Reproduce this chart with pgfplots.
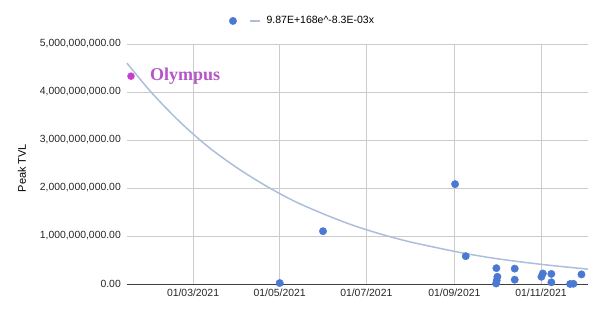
\documentclass[border=0pt]{standalone}
\usepackage{pgfplots}
\pgfplotsset{compat=1.18}
\usepackage{fontspec}
\setmainfont{Liberation Sans}
\newfontfamily\serifb{Liberation Serif}
\definecolor{ptblue}{RGB}{74,120,210}
\definecolor{trend}{RGB}{172,190,220}
\definecolor{olydot}{RGB}{200,60,210}
\definecolor{olytxt}{RGB}{180,85,200}
\definecolor{gridc}{RGB}{204,204,204}
\begin{document}
\begin{tikzpicture}
\begin{axis}[
  at={(0,0)}, anchor=south west,
  scale only axis, width=461bp, height=240bp,
  xmin=12.5, xmax=337.1, ymin=0, ymax=5e9,
  clip=false,
  axis x line*=bottom, axis y line*=left,
  x axis line style={draw=black!75, line width=0.9bp},
  y axis line style={draw=none},
  major tick length=0pt,
  xtick={59,120,181,243,304},
  xticklabels={01/03/2021,01/05/2021,01/07/2021,01/09/2021,01/11/2021},
  ytick={0,1e9,2e9,3e9,4e9,5e9},
  scaled y ticks=false,
  y tick label style={/pgf/number format/fixed, /pgf/number format/fixed zerofill, /pgf/number format/precision=2, /pgf/number format/1000 sep={,}, /pgf/number format/assume math mode=true},
  ticklabel style={font=\fontsize{10.4bp}{12bp}\selectfont, text=black!85},
  y tick label style={inner sep=0pt, anchor=east, xshift=-6bp},
  x tick label style={inner sep=0pt, anchor=north, yshift=-5bp},
  grid=major, grid style={gridc, line width=0.6bp},
  ylabel={Peak TVL},
  ylabel style={at={(axis description cs:-0.228,0.483)}, anchor=center, font=\fontsize{11bp}{13bp}\selectfont},
  legend columns=2,
  legend style={at={(axis description cs:0.381,1.096)}, anchor=center, draw=none, fill=none,
    font=\fontsize{10.5bp}{12bp}\selectfont, column sep=4bp},
]
\addplot[only marks, mark=*, mark size=3.7bp, mark options={fill=ptblue, draw=ptblue}, forget plot] coordinates {
(120,0.02e9) (150.5,1.10e9) (243.5,2.08e9) (251,0.58e9)
(272.6,0.33e9) (273.3,0.15e9) (272.8,0.07e9) (272.4,0.01e9)
(285.5,0.32e9) (285.5,0.09e9)
(305.3,0.22e9) (304.3,0.15e9) (311.3,0.21e9) (311.3,0.035e9)
(324.5,0.0) (326.8,0.005e9) (332.5,0.20e9)
};
\addlegendimage{only marks, mark=*, mark size=3.7bp, mark options={fill=ptblue, draw=ptblue}}
\addlegendentry{}
\addplot[trend, line width=1.5bp, smooth, legend image code/.code={\draw[trend, line width=2bp] (0bp,0bp) -- (10bp,0bp);}] coordinates {
(12.5,4.60e9) (30,3.98e9) (50,3.37e9) (70,2.85e9) (90,2.42e9) (110,2.05e9)
(130,1.73e9) (150,1.47e9) (170,1.24e9) (190,1.05e9) (210,0.89e9) (230,0.76e9)
(250,0.64e9) (270,0.54e9) (290,0.46e9) (310,0.39e9) (330,0.33e9) (337.1,0.31e9)
};
\addlegendentry{9.87E+168e\textasciicircum-8.3E-03x}
\addplot[only marks, mark=*, mark size=3.5bp, mark options={fill=olydot, draw=olydot}, forget plot] coordinates {(15.3,4.33e9)};
\node[anchor=west, text=olytxt, font=\serifb\bfseries\fontsize{18bp}{20bp}\selectfont, inner sep=0pt] at (axis cs:15.3,4.33e9) [xshift=19bp] {Olympus};
\end{axis}
\pgfresetboundingbox
\useasboundingbox (-127bp,-26bp) rectangle (473bp,284bp);
\end{tikzpicture}
\end{document}
